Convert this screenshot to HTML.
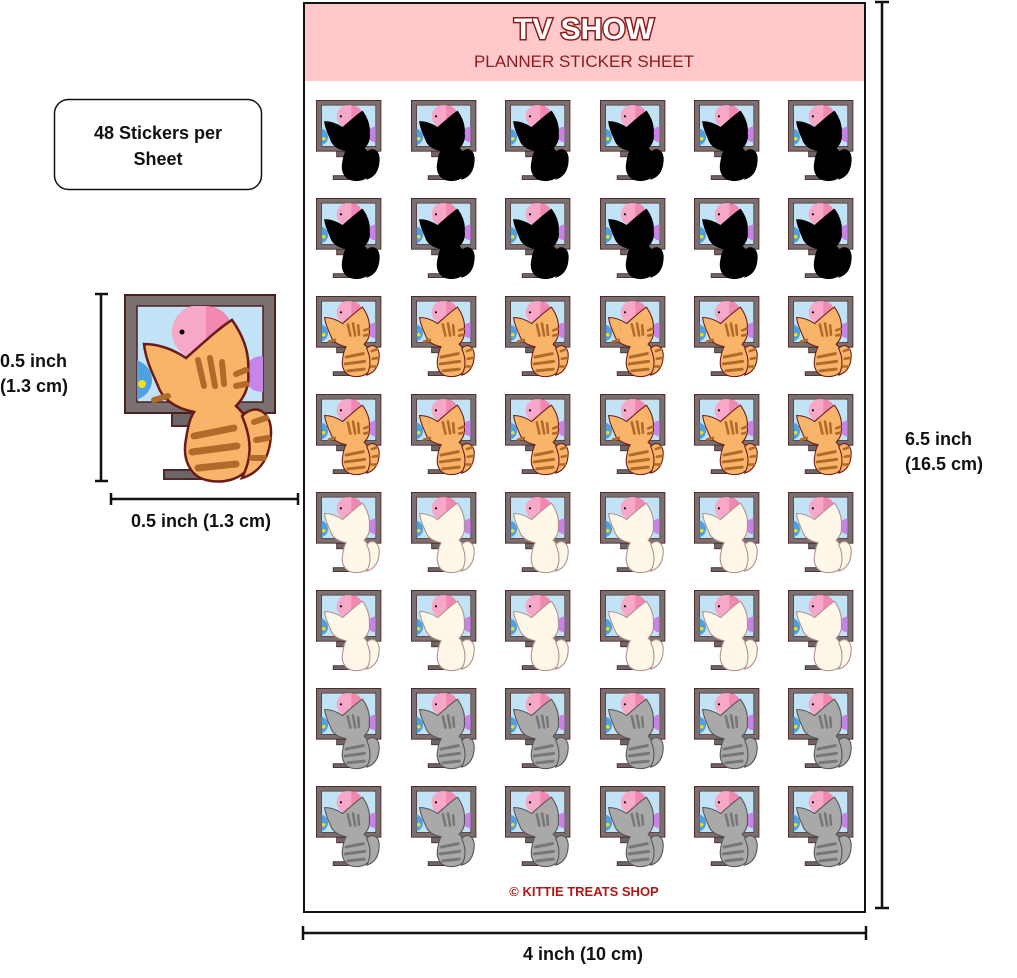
<!DOCTYPE html>
<html><head><meta charset="utf-8"><style>
html,body{margin:0;padding:0;background:#fff;}
body{width:1017px;height:973px;overflow:hidden;}
text{font-family:"Liberation Sans","DejaVu Sans",sans-serif;}
</style></head><body>
<svg width="1017" height="973" viewBox="0 0 1017 973" xmlns="http://www.w3.org/2000/svg">
<defs>
  <clipPath id="scr"><rect x="13" y="12" width="126" height="96"/></clipPath>
  <g id="tv">
    <rect x="48" y="118" width="42" height="14" fill="#6e6666" stroke="#4a2a2a" stroke-width="2"/>
    <rect x="40" y="176" width="50" height="9" fill="#6e6666" stroke="#4a2a2a" stroke-width="2"/>
    <rect x="1" y="1" width="150" height="118" fill="#7a7070" stroke="#4a2020" stroke-width="2"/>
    <rect x="13" y="12" width="126" height="96" fill="#c2e2f6" stroke="#4a2020" stroke-width="1.5"/>
    <g clip-path="url(#scr)">
      <circle cx="75" cy="38" r="27" fill="#f7a8c8"/>
      <path d="M82 12 a27 27 0 0 1 0 54z" fill="#f088b0"/>
      <circle cx="58" cy="38" r="2.5" fill="#000"/>
      <circle cx="138" cy="80" r="18" fill="#c584e6"/>
      <circle cx="8" cy="86" r="20" fill="#4fa0e0"/>
      <circle cx="18" cy="90" r="4" fill="#f0e020"/>
    </g>
  </g>
  <path id="catshape" d="M20 50 C35 50 50 56 62 64 C78 50 95 34 108 26 C118 40 126 58 124 78 C126 92 120 104 112 112 C128 126 132 150 125 172 C118 186 98 190 82 186 C66 182 58 165 62 145 C64 132 66 124 70 118 C50 114 38 104 34 92 C30 82 22 68 20 50 Z"/>
  <path id="tailshape" d="M118 122 C132 108 148 118 147 140 C146 162 138 178 118 184 C126 168 130 150 118 122 Z"/>
  <g id="cat-orange">
    <use href="#tv"/>
    <use href="#catshape" fill="#f8b56a" stroke="#6b1a1a" stroke-width="2.5"/>
    <path d="M74 66 l6 26 M86 64 l5 28 M98 68 l2 22 M30 106 l14 -4 M112 80 l10 -4 M112 92 l10 -2" stroke="#b06a2a" stroke-width="6" stroke-linecap="round" fill="none"/>
    <path d="M70 142 l40 -8 M68 158 l45 -6 M74 174 l38 -4" stroke="#b06a2a" stroke-width="7" stroke-linecap="round" fill="none"/>
    <use href="#tailshape" fill="#f8b56a" stroke="#6b1a1a" stroke-width="2.5"/>
    <path d="M130 128 l12 -4 M132 146 l12 -2 M128 164 l12 0" stroke="#b06a2a" stroke-width="6" stroke-linecap="round" fill="none"/>
  </g>
  <g id="cat-black">
    <use href="#tv"/>
    <use href="#catshape" fill="#000" stroke="#000" stroke-width="2"/>
    <use href="#tailshape" fill="#000" stroke="#000" stroke-width="2"/>
  </g>
  <g id="cat-cream">
    <use href="#tv"/>
    <use href="#catshape" fill="#fff8e8" stroke="#b09090" stroke-width="2.5"/>
    <use href="#tailshape" fill="#fff8e8" stroke="#b09090" stroke-width="2.5"/>
  </g>
  <g id="cat-gray">
    <use href="#tv"/>
    <use href="#catshape" fill="#a9a9a9" stroke="#555" stroke-width="2.5"/>
    <path d="M74 66 l6 26 M86 64 l5 28 M98 68 l2 22" stroke="#777" stroke-width="6" stroke-linecap="round" fill="none"/>
    <path d="M70 142 l40 -8 M68 158 l45 -6 M74 174 l38 -4" stroke="#777" stroke-width="7" stroke-linecap="round" fill="none"/>
    <use href="#tailshape" fill="#a9a9a9" stroke="#555" stroke-width="2.5"/>
  </g>
</defs>

<rect x="54.5" y="99.5" width="207" height="90" rx="14" fill="#fff" stroke="#111" stroke-width="1.5"/>
<text x="158" y="139" font-size="18" font-weight="bold" text-anchor="middle" fill="#111">48 Stickers per</text>
<text x="158" y="165" font-size="18" font-weight="bold" text-anchor="middle" fill="#111">Sheet</text>

<g transform="translate(124,294)"><use href="#cat-orange"/></g>

<g stroke="#111" stroke-width="2.5">
  <line x1="101" y1="294" x2="101" y2="481"/>
  <line x1="95" y1="294" x2="108" y2="294"/>
  <line x1="95" y1="481" x2="108" y2="481"/>
  <line x1="111" y1="499" x2="298" y2="499"/>
  <line x1="111" y1="493" x2="111" y2="505"/>
  <line x1="298" y1="493" x2="298" y2="505"/>
</g>
<text x="0" y="367" font-size="18" font-weight="bold" fill="#111">0.5 inch</text>
<text x="0" y="392" font-size="18" font-weight="bold" fill="#111">(1.3 cm)</text>
<text x="201" y="527" font-size="18" font-weight="bold" text-anchor="middle" fill="#111">0.5 inch (1.3 cm)</text>

<rect x="304" y="3" width="561" height="909" fill="#fff" stroke="#111" stroke-width="2"/>
<rect x="305" y="4" width="559" height="77" fill="#ffc9cc"/>
<text x="584" y="39" font-size="30" font-weight="bold" text-anchor="middle" fill="#fff" stroke="#8b1a1a" stroke-width="3" paint-order="stroke">TV SHOW</text>
<text x="584" y="67" font-size="17" text-anchor="middle" fill="#8b1a1a">PLANNER STICKER SHEET</text>

<g>
  <g transform="translate(316,100) scale(0.43)"><use href="#cat-black"/></g>
  <g transform="translate(411,100) scale(0.43)"><use href="#cat-black"/></g>
  <g transform="translate(505,100) scale(0.43)"><use href="#cat-black"/></g>
  <g transform="translate(600,100) scale(0.43)"><use href="#cat-black"/></g>
  <g transform="translate(694,100) scale(0.43)"><use href="#cat-black"/></g>
  <g transform="translate(788,100) scale(0.43)"><use href="#cat-black"/></g>

  <g transform="translate(316,198) scale(0.43)"><use href="#cat-black"/></g>
  <g transform="translate(411,198) scale(0.43)"><use href="#cat-black"/></g>
  <g transform="translate(505,198) scale(0.43)"><use href="#cat-black"/></g>
  <g transform="translate(600,198) scale(0.43)"><use href="#cat-black"/></g>
  <g transform="translate(694,198) scale(0.43)"><use href="#cat-black"/></g>
  <g transform="translate(788,198) scale(0.43)"><use href="#cat-black"/></g>

  <g transform="translate(316,296) scale(0.43)"><use href="#cat-orange"/></g>
  <g transform="translate(411,296) scale(0.43)"><use href="#cat-orange"/></g>
  <g transform="translate(505,296) scale(0.43)"><use href="#cat-orange"/></g>
  <g transform="translate(600,296) scale(0.43)"><use href="#cat-orange"/></g>
  <g transform="translate(694,296) scale(0.43)"><use href="#cat-orange"/></g>
  <g transform="translate(788,296) scale(0.43)"><use href="#cat-orange"/></g>

  <g transform="translate(316,394) scale(0.43)"><use href="#cat-orange"/></g>
  <g transform="translate(411,394) scale(0.43)"><use href="#cat-orange"/></g>
  <g transform="translate(505,394) scale(0.43)"><use href="#cat-orange"/></g>
  <g transform="translate(600,394) scale(0.43)"><use href="#cat-orange"/></g>
  <g transform="translate(694,394) scale(0.43)"><use href="#cat-orange"/></g>
  <g transform="translate(788,394) scale(0.43)"><use href="#cat-orange"/></g>

  <g transform="translate(316,492) scale(0.43)"><use href="#cat-cream"/></g>
  <g transform="translate(411,492) scale(0.43)"><use href="#cat-cream"/></g>
  <g transform="translate(505,492) scale(0.43)"><use href="#cat-cream"/></g>
  <g transform="translate(600,492) scale(0.43)"><use href="#cat-cream"/></g>
  <g transform="translate(694,492) scale(0.43)"><use href="#cat-cream"/></g>
  <g transform="translate(788,492) scale(0.43)"><use href="#cat-cream"/></g>

  <g transform="translate(316,590) scale(0.43)"><use href="#cat-cream"/></g>
  <g transform="translate(411,590) scale(0.43)"><use href="#cat-cream"/></g>
  <g transform="translate(505,590) scale(0.43)"><use href="#cat-cream"/></g>
  <g transform="translate(600,590) scale(0.43)"><use href="#cat-cream"/></g>
  <g transform="translate(694,590) scale(0.43)"><use href="#cat-cream"/></g>
  <g transform="translate(788,590) scale(0.43)"><use href="#cat-cream"/></g>

  <g transform="translate(316,688) scale(0.43)"><use href="#cat-gray"/></g>
  <g transform="translate(411,688) scale(0.43)"><use href="#cat-gray"/></g>
  <g transform="translate(505,688) scale(0.43)"><use href="#cat-gray"/></g>
  <g transform="translate(600,688) scale(0.43)"><use href="#cat-gray"/></g>
  <g transform="translate(694,688) scale(0.43)"><use href="#cat-gray"/></g>
  <g transform="translate(788,688) scale(0.43)"><use href="#cat-gray"/></g>

  <g transform="translate(316,786) scale(0.43)"><use href="#cat-gray"/></g>
  <g transform="translate(411,786) scale(0.43)"><use href="#cat-gray"/></g>
  <g transform="translate(505,786) scale(0.43)"><use href="#cat-gray"/></g>
  <g transform="translate(600,786) scale(0.43)"><use href="#cat-gray"/></g>
  <g transform="translate(694,786) scale(0.43)"><use href="#cat-gray"/></g>
  <g transform="translate(788,786) scale(0.43)"><use href="#cat-gray"/></g>
</g>

<text x="584" y="896" font-size="13" font-weight="bold" text-anchor="middle" fill="#b01818">© KITTIE TREATS SHOP</text>

<g stroke="#111" stroke-width="2.5">
  <line x1="882" y1="2" x2="882" y2="908"/>
  <line x1="875" y1="2" x2="889" y2="2"/>
  <line x1="875" y1="908" x2="889" y2="908"/>
  <line x1="303" y1="933" x2="866" y2="933"/>
  <line x1="303" y1="926" x2="303" y2="940"/>
  <line x1="866" y1="926" x2="866" y2="940"/>
</g>
<text x="905" y="445" font-size="18" font-weight="bold" fill="#111">6.5 inch</text>
<text x="905" y="470" font-size="18" font-weight="bold" fill="#111">(16.5 cm)</text>
<text x="583" y="960" font-size="18" font-weight="bold" text-anchor="middle" fill="#111">4 inch (10 cm)</text>
</svg>
</body></html>
